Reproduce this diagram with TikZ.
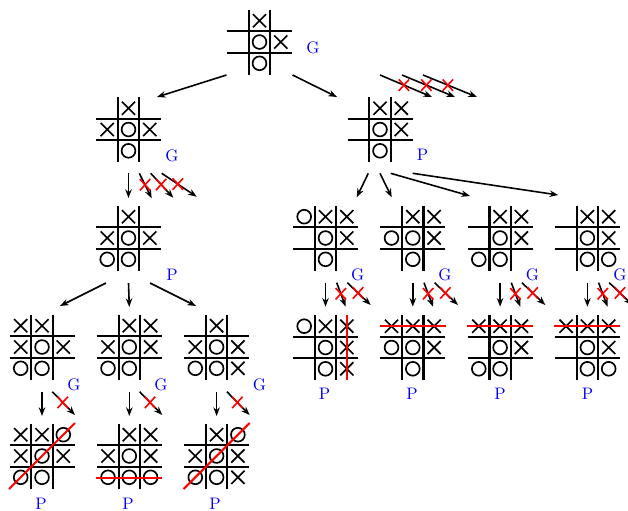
\documentclass[tikz,border=0pt]{standalone}
\usetikzlibrary{arrows.meta,calc}
\definecolor{lblblue}{RGB}{0,0,255}
\newcommand\tttboard[2]{%
  \begin{scope}[shift={(#1.center)}]
    \draw[gridln] (-10.65,-32.5) -- (-10.65,32.5) (10.65,-32.5) -- (10.65,32.5)
      (-32.5,-10.65) -- (32.5,-10.65) (-32.5,10.65) -- (32.5,10.65);
    \foreach \sym [count=\i from 0] in {#2} {
      \pgfmathtruncatemacro\rr{floor(\i/3)}
      \pgfmathtruncatemacro\cc{mod(\i,3)}
      \pgfmathsetmacro\px{(\cc-1)*21.3}
      \pgfmathsetmacro\py{(\rr-1)*21.3}
      \if x\sym
        \draw[markln] ({\px-6.6},{\py-6.6}) -- ({\px+6.6},{\py+6.6})
                      ({\px-6.6},{\py+6.6}) -- ({\px+6.6},{\py-6.6});
      \fi
      \if o\sym
        \draw[markln] (\px,\py) circle[radius=6.9];
      \fi
    }
  \end{scope}}
\newcommand\prunedarrow[2]{%
  \draw[arr] #1 -- #2;
  \path #1 -- #2 coordinate[pos=0.46] (pm);
  \draw[redx] ($(pm)+(-5.2,-5.7)$) -- ($(pm)+(5.2,5.7)$)
              ($(pm)+(-5.2,5.7)$) -- ($(pm)+(5.2,-5.7)$);}
\begin{document}
\begin{tikzpicture}[x=0.6pt,y=-0.6pt,
  gridln/.style={line width=1.3pt},
  markln/.style={line width=1pt},
  arr/.style={line width=0.95pt,-{Stealth[length=5.2pt,width=3.9pt]}},
  redx/.style={red,line width=0.95pt},
  winln/.style={red,line width=1.25pt},
  lbl/.style={text=lblblue,inner sep=0pt,font=\normalsize},
  board/.style={minimum size=39pt,inner sep=0pt}]
\useasboundingbox (0,0) rectangle (628,511);

% boards
\node[board] (r) at (259.5,42) {};
\node[board] (a) at (128.5,129.5) {};
\node[board] (b) at (380,129.5) {};
\node[board] (a1) at (128.5,238) {};
\node[board] (c1) at (42,347) {};
\node[board] (c2) at (129.3,347) {};
\node[board] (c3) at (216.6,347) {};
\node[board] (d1) at (42,456) {};
\node[board] (d2) at (129.3,456) {};
\node[board] (d3) at (216.6,456) {};
\node[board] (e1) at (325.5,238) {};
\node[board] (e2) at (412.8,238) {};
\node[board] (e3) at (500.1,238) {};
\node[board] (e4) at (587.4,238) {};
\node[board] (f1) at (325.5,347.5) {};
\node[board] (f2) at (412.8,347.5) {};
\node[board] (f3) at (500.1,347.5) {};
\node[board] (f4) at (587.4,347.5) {};

\tttboard{r}{e,x,e,e,o,x,e,o,e}
\tttboard{a}{e,x,e,x,o,x,e,o,e}
\tttboard{b}{e,x,x,e,o,x,e,o,e}
\tttboard{a1}{e,x,e,x,o,x,o,o,e}
\tttboard{c1}{x,x,e,x,o,x,o,o,e}
\tttboard{c2}{e,x,x,x,o,x,o,o,e}
\tttboard{c3}{e,x,e,x,o,x,o,o,x}
\tttboard{d1}{x,x,o,x,o,x,o,o,e}
\tttboard{d2}{e,x,x,x,o,x,o,o,o}
\tttboard{d3}{e,x,o,x,o,x,o,o,x}
\tttboard{e1}{o,x,x,e,o,x,e,o,e}
\tttboard{e2}{e,x,x,o,o,x,e,o,e}
\tttboard{e3}{e,x,x,e,o,x,o,o,e}
\tttboard{e4}{e,x,x,e,o,x,e,o,o}
\tttboard{f1}{o,x,x,e,o,x,e,o,x}
\tttboard{f2}{x,x,x,o,o,x,e,o,e}
\tttboard{f3}{x,x,x,e,o,x,o,o,e}
\tttboard{f4}{x,x,x,e,o,x,e,o,o}

% winning lines
\draw[winln] ($(d1.center)+(-33,33)$) -- ($(d1.center)+(33,-33)$);
\draw[winln] ($(d2.center)+(-33,22)$) -- ($(d2.center)+(33,22)$);
\draw[winln] ($(d3.center)+(-33,33)$) -- ($(d3.center)+(33,-33)$);
\draw[winln] ($(f1.center)+(21.5,-32.5)$) -- ($(f1.center)+(21.5,32.5)$);
\draw[winln] ($(f2.center)+(-33,-21.5)$) -- ($(f2.center)+(33,-21.5)$);
\draw[winln] ($(f3.center)+(-33,-21.5)$) -- ($(f3.center)+(33,-21.5)$);
\draw[winln] ($(f4.center)+(-33,-21.5)$) -- ($(f4.center)+(33,-21.5)$);

% labels
\node[lbl] (lr) at (313,47.5) {G};
\node[lbl] (la) at (172,156) {G};
\node[lbl] (lb) at (422.5,154.5) {P};
\node[lbl] (la1) at (172,275) {P};
\node[lbl] (lc1) at (74,385) {G};
\node[lbl] (lc2) at (161,385) {G};
\node[lbl] (lc3) at (259.5,385) {G};
\node[lbl] (ld1) at (41,503.5) {P};
\node[lbl] (ld2) at (128,503.5) {P};
\node[lbl] (ld3) at (215,503.5) {P};
\node[lbl] (le1) at (357.7,275) {G};
\node[lbl] (le2) at (445,275) {G};
\node[lbl] (le3) at (532.3,275) {G};
\node[lbl] (le4) at (620,275) {G};
\node[lbl] (lf1) at (324.5,394) {P};
\node[lbl] (lf2) at (412,394) {P};
\node[lbl] (lf3) at (500,394) {P};
\node[lbl] (lf4) at (587.5,394) {P};

% root edges
\draw[arr] ($(r.center)+(-33,33)$) -- ($(a.center)+(28.5,-32.5)$);
\draw[arr] ($(r.center)+(33,33)$) -- ($(b.center)+(-43,-32.5)$);
\prunedarrow{($(r.center)+(120.5,33)$)}{($(r.center)+(172.5,55)$)}
\prunedarrow{($(r.center)+(142.5,33)$)}{($(r.center)+(195.5,55)$)}
\prunedarrow{($(r.center)+(163.5,33)$)}{($(r.center)+(217.5,55)$)}

% left branch
\draw[arr] ($(a.center)+(0,43.8)$) -- ($(a1.center)+(0,-40)$);
\prunedarrow{($(a.center)+(10.8,43.8)$)}{($(a.center)+(23.2,68.8)$)}
\prunedarrow{($(a.center)+(22.2,43.8)$)}{($(a.center)+(44.8,68.2)$)}
\prunedarrow{($(a.center)+(33.2,43.8)$)}{($(a.center)+(68.2,67.2)$)}

\draw[arr] ($(a1.center)+(-22.5,45)$) -- ($(c1.center)+(18,-41)$);
\draw[arr] ($(a1.center)+(0,45)$) -- ($(c2.center)+(0,-40)$);
\draw[arr] ($(a1.center)+(21.5,45)$) -- ($(c3.center)+(-20.6,-41)$);

\foreach \p/\q in {c1/d1,c2/d2,c3/d3} {
  \draw[arr] ($(\p.center)+(0,44.7)$) -- ($(\q.center)+(0,-40)$);
  \prunedarrow{($(\p.center)+(10.3,44.7)$)}{($(\p.center)+(33,68)$)}
}

% right branch
\draw[arr] ($(b.center)+(-11.7,43.8)$) -- ($(e1.center)+(31.2,-40.7)$);
\draw[arr] ($(b.center)+(0,43.8)$) -- ($(e2.center)+(-21.1,-40.7)$);
\draw[arr] ($(b.center)+(10.7,43.8)$) -- ($(e3.center)+(-30.1,-42)$);
\draw[arr] ($(b.center)+(32.7,43.8)$) -- ($(e4.center)+(-29.1,-43)$);

\foreach \p/\q in {e1/f1,e2/f2,e3/f3,e4/f4} {
  \draw[arr] ($(\p.center)+(0,44.7)$) -- ($(\q.center)+(0,-40.8)$);
  \prunedarrow{($(\p.center)+(11.2,44.7)$)}{($(\p.center)+(20.2,68.7)$)}
  \prunedarrow{($(\p.center)+(21.8,44.7)$)}{($(\p.center)+(45.2,67)$)}
}
\end{tikzpicture}
\end{document}
